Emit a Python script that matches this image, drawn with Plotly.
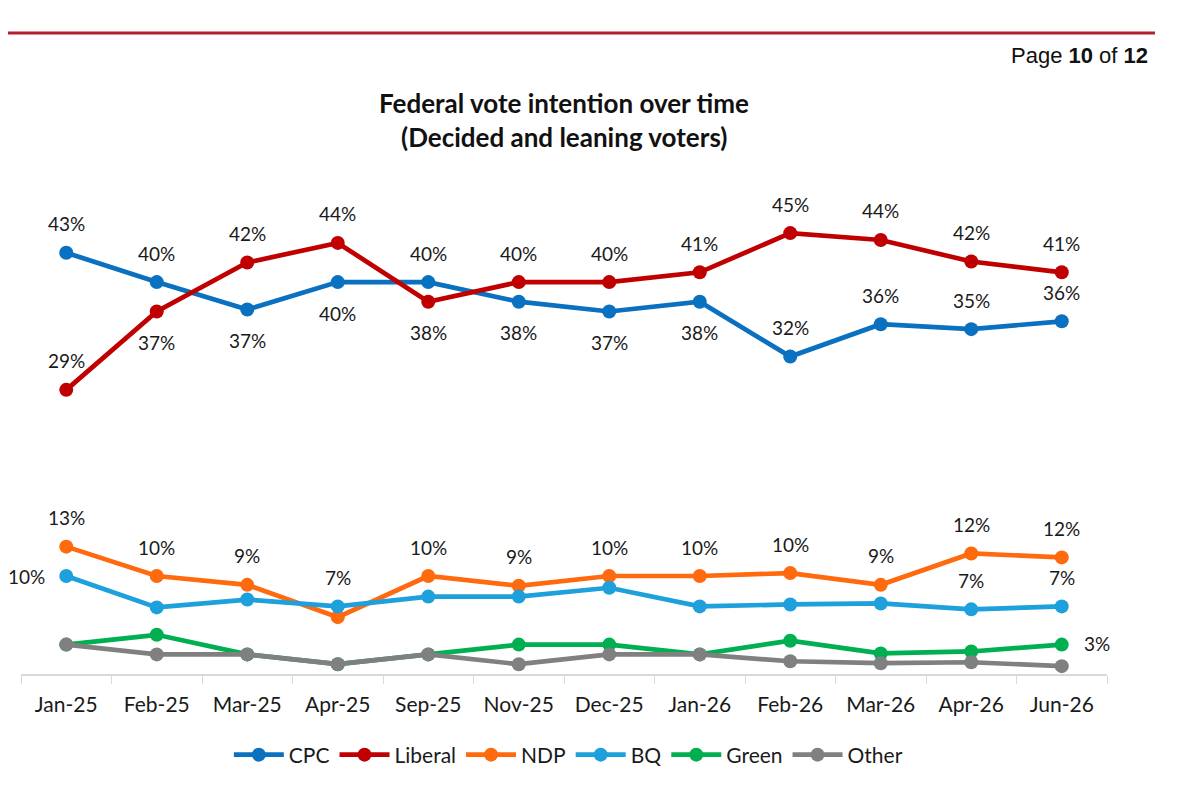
import plotly.graph_objects as go

# survey waves
months = ["Jan-25", "Feb-25", "Mar-25", "Apr-25", "Sep-25", "Nov-25",
          "Dec-25", "Jan-26", "Feb-26", "Mar-26", "Apr-26", "Jun-26"]

# vote share (%) per party
cpc = [43, 40, 37.2, 40, 40, 38, 37, 38, 32.4, 35.7, 35.2, 36]
liberal = [29, 37, 42, 44, 38, 40, 40, 41, 45, 44.3, 42.1, 41]
ndp = [13, 10, 9.1, 5.8, 10, 9, 10, 10, 10.3, 9.1, 12.3, 11.9]
bq = [10, 6.8, 7.6, 6.9, 7.9, 7.9, 8.8, 6.9, 7.1, 7.2, 6.6, 6.9]
green = [3, 4, 2, 1, 2, 3, 3, 2, 3.4, 2.1, 2.3, 3]
other = [3, 2, 2, 1, 2, 1, 2, 2, 1.3, 1.1, 1.2, 0.8]

# where each data label goes: "u" above, "d" below, "l" left, "r" right, None = no label
cpc_pos = ["u", "u", "d", "d", "u", "d", "d", "d", "u", "u", "u", "u"]
lib_pos = ["u", "d", "u", "u", "d", "u", "u", "u", "u", "u", "u", "u"]
ndp_pos = ["u", "u", "u", None, "u", "u", "u", "u", "u", "u", "u", "u"]
bq_pos = ["l", None, None, "u", None, None, None, None, None, None, "u", "u"]
green_pos = [None] * 11 + ["r"]
other_pos = [None] * 12

series = [
    ("CPC", cpc, "#0A70C0", cpc_pos),
    ("Liberal", liberal, "#C00000", lib_pos),
    ("NDP", ndp, "#FF6A0E", ndp_pos),
    ("BQ", bq, "#1EA0DC", bq_pos),
    ("Green", green, "#00B050", green_pos),
    ("Other", other, "#808080", other_pos),
]

FONT = "Lato, 'Open Sans', sans-serif"

fig = go.Figure()
annotations = []
for name, vals, color, pos in series:
    fig.add_trace(go.Scatter(
        x=months, y=vals, name=name, mode="lines+markers",
        line=dict(color=color, width=4.7),
        marker=dict(color=color, size=14),
        cliponaxis=False,
    ))
    for m, v, p in zip(months, vals, pos):
        if p is None:
            continue
        shift = {"u": (0, 29), "d": (0, -31), "l": (-40, 0), "r": (35, 1)}[p]
        annotations.append(dict(
            x=m, y=v, text=f"{round(v)}%", showarrow=False,
            xshift=shift[0], yshift=shift[1],
            font=dict(family=FONT, size=19, color="#1a1a1a"),
        ))

# title lines and page header (paper coords: plot area is 1086 x 484 px)
annotations += [
    dict(xref="paper", yref="paper", x=0.5, y=1 + (190 - 103) / 484, yanchor="middle",
         text="<b>Federal vote intention over time</b>", showarrow=False,
         font=dict(family=FONT, size=26, color="#111111")),
    dict(xref="paper", yref="paper", x=0.5, y=1 + (190 - 137) / 484, yanchor="middle",
         text="<b>(Decided and leaning voters)</b>", showarrow=False,
         font=dict(family=FONT, size=26, color="#111111")),
    dict(xref="paper", yref="paper", x=(1150 - 21) / 1086, xanchor="right",
         y=1 + (190 - 55) / 484, yanchor="middle",
         text="Page <b>10</b> of <b>12</b>", showarrow=False,
         font=dict(family="'Liberation Sans', Arial, sans-serif", size=22, color="#111111")),
]

fig.update_layout(
    width=1192, height=786,
    margin=dict(l=13, r=93, t=182, b=120),
    plot_bgcolor="white", paper_bgcolor="white",
    showlegend=True,
    legend=dict(orientation="h", x=0.504, xanchor="center", y=-(755 - 674) / 484, yanchor="middle",
                font=dict(family=FONT, size=21, color="#1a1a1a"), itemwidth=50),
    annotations=annotations,
    shapes=[dict(type="line", xref="paper", yref="paper",
                 x0=-21 / 1086, x1=(1155 - 21) / 1086,
                 y0=1 + (190 - 33) / 484, y1=1 + (190 - 33) / 484,
                 line=dict(color="#B3222C", width=3))],
)
fig.update_xaxes(
    type="category", range=[-0.5, 11.5], tickson="boundaries",
    showline=True, linecolor="#D9D9D9", linewidth=1.5,
    ticks="outside", ticklen=8, tickcolor="#D9D9D9", showgrid=False,
    ticklabelstandoff=11,
    tickfont=dict(family=FONT, size=21, color="#1a1a1a"),
)
fig.update_yaxes(range=[0, 49.4], visible=False, showgrid=False, zeroline=False)

fig.write_html("out.html")
